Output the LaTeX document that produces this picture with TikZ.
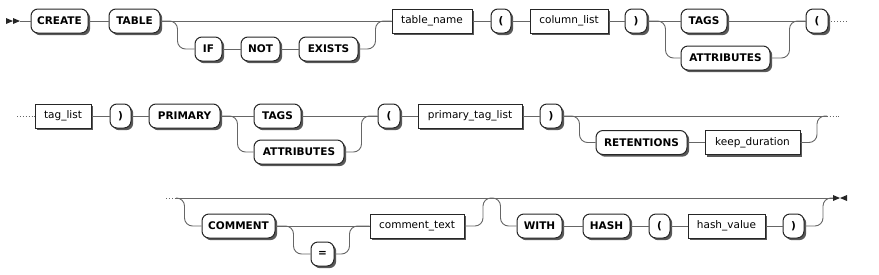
\documentclass[tikz,border=0pt]{standalone}
\usepackage{fontspec}
\setmainfont{DejaVu Sans}
\usetikzlibrary{shadows}

\begin{document}
\begin{tikzpicture}[x=1pt,y=-1pt,
	rail/.style={draw=black!60, line width=0.9pt, rounded corners=8pt},
	more/.style={draw=black!60, line width=0.9pt, dotted},
	kw/.style={draw=black!85, line width=1pt, fill=white, rounded corners=7pt,
		minimum height=24pt, inner sep=0pt, font=\fontsize{10.5}{12}\selectfont\bfseries,
		drop shadow={shadow xshift=2.2pt, shadow yshift=-2.2pt, fill=black!65, opacity=1}},
	nt/.style={draw=black!85, line width=1pt, fill=white,
		minimum height=24pt, inner sep=0pt, font=\fontsize{10.5}{12}\selectfont,
		drop shadow={shadow xshift=2.2pt, shadow yshift=-2.2pt, fill=black!65, opacity=1}},
	tip/.style={fill=black!85}]
			\useasboundingbox (0,0) rectangle (879,274);
			% row 1
			\node[kw, minimum width=57] (create) at (59.5,21) {CREATE};
			\node[kw, minimum width=51] (tbl) at (134.5,21) {TABLE};
			\node[kw, minimum width=27] (if) at (208.5,49) {IF};
			\node[kw, minimum width=39] (not) at (260.5,49) {NOT};
			\node[kw, minimum width=59] (exists) at (328.5,49) {EXISTS};
			\node[nt, minimum width=80] (tblname) at (432,21) {table\_name};
			\node[kw, minimum width=20] (lpa) at (501,21) {(};
			\node[nt, minimum width=78] (collist) at (569,21) {column\_list};
			\node[kw, minimum width=22] (rpa) at (636,21) {)};
			\node[kw, minimum width=46] (tagsa) at (704,21) {TAGS};
			\node[kw, minimum width=89] (attra) at (725.5,58) {ATTRIBUTES};
			\node[kw, minimum width=22] (lpb) at (817,21) {(};
			\coordinate (start) at (20,21);
			\coordinate (morea) at (847,21);
			\fill[tip] (6,18) -- (13,21) -- (6,24) -- cycle;
			\fill[tip] (13,18) -- (20,21) -- (13,24) -- cycle;
			\draw[rail] (start) -- (create.west);
			\draw[rail] (create.east) -- (tbl.west);
			\draw[rail] (tbl.east) -- (tblname.west);
			\draw[rail] (tbl.east) -- ++(17,0) |- (if.west);
			\draw[rail] (if.east) -- (not.west);
			\draw[rail] (not.east) -- (exists.west);
			\draw[rail] (exists.east) -| ([xshift=-16pt]tblname.west) -- (tblname.west);
			\draw[rail] (tblname.east) -- (lpa.west);
			\draw[rail] (lpa.east) -- (collist.west);
			\draw[rail] (collist.east) -- (rpa.west);
			\draw[rail] (rpa.east) -- (tagsa.west);
			\draw[rail] (rpa.east) -- ++(18,0) |- (attra.west);
			\draw[rail] (tagsa.east) -- (lpb.west);
			\draw[rail] (attra.east) -| ([xshift=-16pt]lpb.west) -- (lpb.west);
			\draw[more] (lpb.east) -- (morea);
			% row 2
			\coordinate (moreb) at (17,116);
			\node[nt, minimum width=56] (taglist) at (63,116) {tag\_list};
			\node[kw, minimum width=21] (rpb) at (120.5,116) {)};
			\node[kw, minimum width=71] (primary) at (184.5,116) {PRIMARY};
			\node[kw, minimum width=47] (tagsb) at (277.5,116) {TAGS};
			\node[kw, minimum width=90] (attrb) at (299,152) {ATTRIBUTES};
			\node[kw, minimum width=22] (lpc) at (389,116) {(};
			\node[nt, minimum width=104] (ptaglist) at (470,116) {primary\_tag\_list};
			\node[kw, minimum width=22] (rpc) at (551,116) {)};
			\node[kw, minimum width=91] (ret) at (641.5,142.5) {RETENTIONS};
			\node[nt, minimum width=95] (keep) at (752.5,142.5) {keep\_duration};
			\coordinate (joinb) at (827,116);
			\coordinate (morec) at (839,116);
			\draw[more] (moreb) -- (taglist.west);
			\draw[rail] (taglist.east) -- (rpb.west);
			\draw[rail] (rpb.east) -- (primary.west);
			\draw[rail] (primary.east) -- (tagsb.west);
			\draw[rail] (primary.east) -- ++(17,0) |- (attrb.west);
			\draw[rail] (tagsb.east) -- (lpc.west);
			\draw[rail] (attrb.east) -| ([xshift=-16pt]lpc.west) -- (lpc.west);
			\draw[rail] (lpc.east) -- (ptaglist.west);
			\draw[rail] (ptaglist.east) -- (rpc.west);
			\draw[rail] (rpc.east) -- (joinb);
			\draw[rail] (rpc.east) -- ++(17,0) |- (ret.west);
			\draw[rail] (ret.east) -- (keep.west);
			\draw[rail] (keep.east) -| ([xshift=-10pt]joinb) -- (joinb);
			\draw[more] ([xshift=-6pt]joinb) -- (morec);
			% row 3
			\coordinate (mored) at (166,198);
			\coordinate (forkc) at (176,198);
			\node[kw, minimum width=73] (comment) at (238.5,226) {COMMENT};
			\node[kw, minimum width=23] (eq) at (322.5,254) {=};
			\node[nt, minimum width=94] (ctext) at (417,226) {comment\_text};
			\coordinate (midc) at (491,198);
			\node[kw, minimum width=45] (with) at (539.5,226) {WITH};
			\node[kw, minimum width=47] (hash) at (606.5,226) {HASH};
			\node[kw, minimum width=21] (lpd) at (659.5,226) {(};
			\node[nt, minimum width=77] (hashval) at (726.5,226) {hash\_value};
			\node[kw, minimum width=21] (rpd) at (793.5,226) {)};
			\coordinate (fin) at (833,198);
			\draw[more] (mored) -- (forkc);
			\draw[rail] (forkc) -- (fin);
			\draw[rail] (forkc) -| ([xshift=-17pt]comment.west) -- (comment.west);
			\draw[rail] (comment.east) -- (ctext.west);
			\draw[rail] (comment.east) -- ++(18,0) |- (eq.west);
			\draw[rail] (eq.east) -| ([xshift=-20pt]ctext.west) -- (ctext.west);
			\draw[rail] (ctext.east) -| ([xshift=-8pt]midc) -- (midc);
			\draw[rail] (midc) -| ([xshift=-16pt]with.west) -- (with.west);
			\draw[rail] (with.east) -- (hash.west);
			\draw[rail] (hash.east) -- (lpd.west);
			\draw[rail] (lpd.east) -- (hashval.west);
			\draw[rail] (hashval.east) -- (rpd.west);
			\draw[rail] (rpd.east) -| ([xshift=-10pt]fin) -- (fin);
			\fill[tip] (833,195) -- (840,198) -- (833,201) -- cycle;
			\fill[tip] (847,195) -- (840,198) -- (847,201) -- cycle;
		\end{tikzpicture}
\end{document}
